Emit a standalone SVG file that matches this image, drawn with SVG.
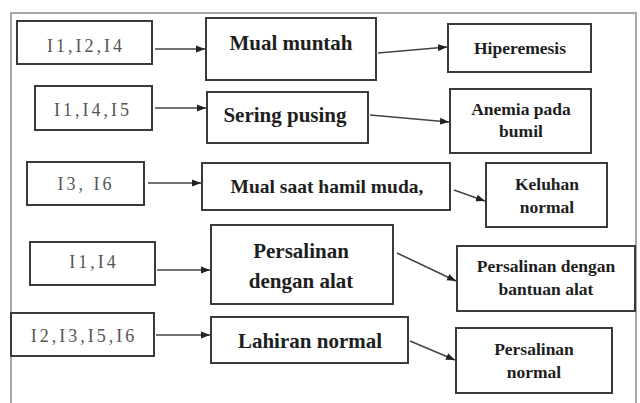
<svg xmlns="http://www.w3.org/2000/svg" width="640" height="403" viewBox="0 0 640 403">
<style>
.frame{fill:none;stroke:#a8a8a8;stroke-width:2}
.box{fill:#fff;stroke:#3a3a3a;stroke-width:2}
.lt{font-size:18px;fill:#555;letter-spacing:3px;text-anchor:middle}
.mt{font-size:21px;font-weight:bold;fill:#1e1e1e;text-anchor:middle}
.rt{font-size:17.5px;font-weight:bold;fill:#1e1e1e;text-anchor:middle}
.ar{fill:none;stroke:#444;stroke-width:1.6;marker-end:url(#ah)}
</style>
<defs>
<marker id="ah" markerUnits="userSpaceOnUse" markerWidth="10" markerHeight="8" refX="9" refY="4" orient="auto">
<path d="M0,0.5 L9,4 L0,7.5 z" fill="#222"/>
</marker>
</defs>
<rect width="640" height="403" fill="#fff"/>
<path class="frame" d="M11,403 L11,13 L636,13 L636,403"/>
<g font-family="Liberation Serif, DejaVu Serif, serif">
<g id="n-i124"><rect class="box" x="17" y="21" width="135" height="43"/><text class="lt" x="86" y="52">I1,I2,I4</text></g>
<g id="n-i145"><rect class="box" x="35" y="86" width="117" height="44"/><text class="lt" x="93" y="116">I1,I4,I5</text></g>
<g id="n-i36"><rect class="box" x="27" y="162" width="117" height="43"/><text class="lt" x="86" y="190">I3, I6</text></g>
<g id="n-i14"><rect class="box" x="30" y="242" width="125" height="43"/><text class="lt" x="94" y="268">I1,I4</text></g>
<g id="n-i2356"><rect class="box" x="11" y="313" width="143" height="43"/><text class="lt" x="84" y="342">I2,I3,I5,I6</text></g>

<g id="n-mual"><rect class="box" x="206" y="18" width="170" height="62"/><text class="mt" x="291" y="50">Mual muntah</text></g>
<g id="n-sering"><rect class="box" x="207" y="92" width="161" height="51"/><text class="mt" x="285" y="122">Sering pusing</text></g>
<g id="n-mualsaat"><rect class="box" x="202" y="163" width="248" height="47"/><text class="mt" x="327" y="193" style="font-size:19.5px">Mual saat hamil muda,</text></g>
<g id="n-persalinan"><rect class="box" x="211" y="225" width="182" height="79"/><text class="mt" x="301" y="258">Persalinan</text><text class="mt" x="301" y="288">dengan alat</text></g>
<g id="n-lahiran"><rect class="box" x="211" y="317" width="197" height="46"/><text class="mt" x="310" y="348">Lahiran normal</text></g>

<g id="n-hiper"><rect class="box" x="448" y="24" width="143" height="48"/><text class="rt" x="520" y="54">Hiperemesis</text></g>
<g id="n-anemia"><rect class="box" x="450" y="89" width="141" height="64"/><text class="rt" x="521" y="115">Anemia pada</text><text class="rt" x="521" y="137">bumil</text></g>
<g id="n-keluhan"><rect class="box" x="486" y="163" width="121" height="64"/><text class="rt" x="547" y="190">Keluhan</text><text class="rt" x="547" y="213">normal</text></g>
<g id="n-bantuan"><rect class="box" x="457" y="246" width="178" height="65"/><text class="rt" x="546" y="272">Persalinan dengan</text><text class="rt" x="546" y="295">bantuan alat</text></g>
<g id="n-pnormal"><rect class="box" x="456" y="328" width="156" height="65"/><text class="rt" x="534" y="355">Persalinan</text><text class="rt" x="534" y="378">normal</text></g>
</g>
<g id="connectors">
<line class="ar" x1="155" y1="49" x2="205" y2="49"/>
<line class="ar" x1="155" y1="108" x2="206" y2="108"/>
<line class="ar" x1="148" y1="183" x2="201" y2="183"/>
<line class="ar" x1="157" y1="270" x2="210" y2="270"/>
<line class="ar" x1="156" y1="335" x2="210" y2="335"/>
<line class="ar" x1="378" y1="53" x2="447" y2="47"/>
<line class="ar" x1="370" y1="115" x2="449" y2="122"/>
<line class="ar" x1="454" y1="190" x2="485" y2="201"/>
<line class="ar" x1="397" y1="253" x2="456" y2="281"/>
<line class="ar" x1="410" y1="341" x2="455" y2="360"/>
</g>
</svg>
